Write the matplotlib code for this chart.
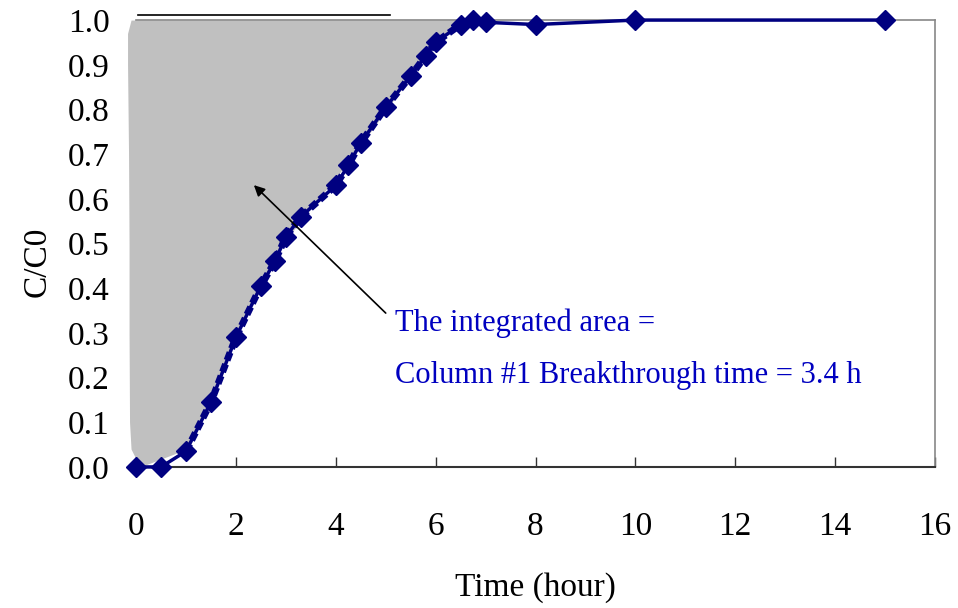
import matplotlib.pyplot as plt
import numpy as np

plt.rcParams["font.family"] = ["Liberation Serif", "DejaVu Serif"]

# measured breakthrough curve, column #1
time_h = [0, 0.5, 1.0, 1.5, 2.0, 2.5, 2.78, 3.0, 3.3, 4.0, 4.25, 4.5, 5.0,
          5.5, 5.8, 6.0, 6.5, 6.75, 7.0, 8.0, 10.0, 15.0]
c_c0 = [0.0, 0.0, 0.035, 0.145, 0.29, 0.405, 0.46, 0.515, 0.56, 0.63, 0.675,
        0.725, 0.805, 0.875, 0.92, 0.95, 0.99, 1.0, 0.995, 0.99, 1.0, 1.0]

# shaded (integrated) region, left boundary hand drawn
shade_y = [0.0, 0.04, 0.1, 0.3, 0.5, 0.7, 0.9, 0.97, 1.0]
shade_left = [0.08, -0.1, -0.13, -0.14, -0.14, -0.15, -0.17, -0.17, -0.1]

xticks = [0, 2, 4, 6, 8, 10, 12, 14, 16]
yticks = [0.0, 0.1, 0.2, 0.3, 0.4, 0.5, 0.6, 0.7, 0.8, 0.9, 1.0]

navy = "#000080"

fig = plt.figure(figsize=(9.58, 6.08), dpi=100)
ax = fig.add_axes([0.142, 0.232, 0.834, 0.735])

# gray area between left edge and the curve
curve_x = np.interp(shade_y, c_c0[1:18], time_h[1:18])
curve_x[0] = 0.08
ax.fill_betweenx(shade_y, shade_left, curve_x, color="#c0c0c0", lw=0,
                 zorder=1, clip_on=False)

ax.plot(time_h, c_c0, color=navy, lw=2.5, marker="D", ms=10, zorder=3,
        clip_on=False)
ax.plot(time_h[2:18], c_c0[2:18], color=navy, lw=5, ls=(0, (1.2, 0.6)),
        zorder=2, clip_on=False)

# line along the top of the shaded area
ax.plot([0.04, 5.08], [1.012, 1.012], color="black", lw=1.2, clip_on=False)

ax.annotate("", xy=(2.32, 0.635), xytext=(5.04, 0.34),
            arrowprops=dict(arrowstyle="-|>", color="black", lw=1.2,
                            mutation_scale=16))
ax.text(5.18, 0.322, "The integrated area =", color="#0000c0", fontsize=22,
        va="center")
ax.text(5.18, 0.204, "Column #1 Breakthrough time = 3.4 h", color="#0000c0",
        fontsize=22, va="center")

ax.set_xlim(0, 16)
ax.set_ylim(0, 1.0)
ax.set_xticks(xticks)
ax.set_yticks(yticks)
ax.set_yticklabels([f"{v:.1f}" for v in yticks])
ax.tick_params(axis="x", direction="in", length=7, width=1, color="#333333",
               pad=32, labelsize=24)
ax.tick_params(axis="y", length=0, pad=19, labelsize=24)

ax.spines["left"].set_visible(False)
ax.spines["bottom"].set_color("#333333")
ax.spines["bottom"].set_linewidth(1.5)
for s in ["top", "right"]:
    ax.spines[s].set_color("#888888")
    ax.spines[s].set_linewidth(1.2)

ax.set_xlabel("Time (hour)", fontsize=24, labelpad=22)
ax.set_ylabel("C/C0", fontsize=24)
ax.yaxis.set_label_coords(-0.105, 0.46)

fig.savefig("out.png", dpi=100)
